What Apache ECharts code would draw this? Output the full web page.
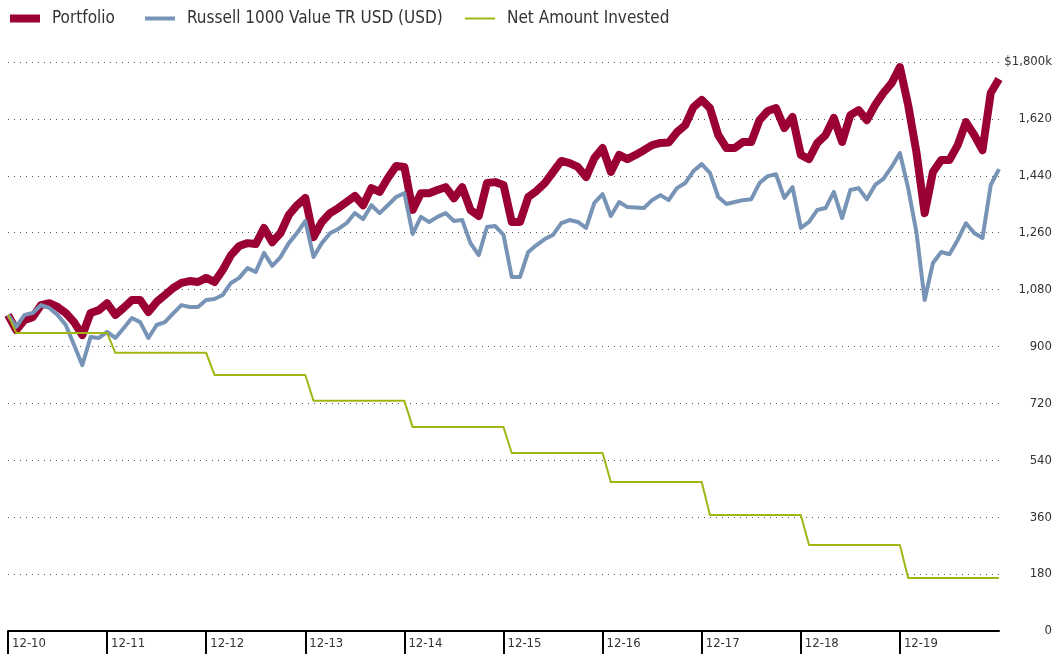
<!DOCTYPE html>
<html>
<head>
<meta charset="utf-8">
<script src="https://cdn.jsdelivr.net/npm/echarts@6/dist/echarts.min.js"></script>
<style>
html,body{margin:0;padding:0;background:#fff;}
#chart{width:1055px;height:654px;}
</style>
</head>
<body>
<div id="chart"></div>
<script>
const categories = [
'12-10',
'01-11','02-11','03-11','04-11','05-11','06-11','07-11','08-11','09-11','10-11','11-11','12-11',
'01-12','02-12','03-12','04-12','05-12','06-12','07-12','08-12','09-12','10-12','11-12','12-12',
'01-13','02-13','03-13','04-13','05-13','06-13','07-13','08-13','09-13','10-13','11-13','12-13',
'01-14','02-14','03-14','04-14','05-14','06-14','07-14','08-14','09-14','10-14','11-14','12-14',
'01-15','02-15','03-15','04-15','05-15','06-15','07-15','08-15','09-15','10-15','11-15','12-15',
'01-16','02-16','03-16','04-16','05-16','06-16','07-16','08-16','09-16','10-16','11-16','12-16',
'01-17','02-17','03-17','04-17','05-17','06-17','07-17','08-17','09-17','10-17','11-17','12-17',
'01-18','02-18','03-18','04-18','05-18','06-18','07-18','08-18','09-18','10-18','11-18','12-18',
'01-19','02-19','03-19','04-19','05-19','06-19','07-19','08-19','09-19','10-19','11-19','12-19',
'01-20','02-20','03-20','04-20','05-20','06-20','07-20','08-20','09-20','10-20','11-20','12-20'
];

const portfolio = [
1000,
952,984,993,1031,1037,1025,1006,977,936,1006,1015,1037,
1000,1022,1047,1047,1009,1041,1063,1085,1101,1107,1104,1117,
1104,1142,1189,1218,1227,1224,1275,1230,1259,1316,1347,1370,
1246,1294,1322,1338,1357,1376,1347,1401,1389,1433,1471,1468,
1332,1385,1385,1395,1404,1369,1404,1332,1313,1417,1420,1411,
1294,1294,1373,1392,1417,1452,1487,1480,1468,1436,1496,1528,
1452,1506,1493,1506,1521,1537,1544,1545,1578,1600,1657,1680,
1654,1569,1528,1528,1547,1547,1616,1645,1654,1591,1626,1506,
1493,1544,1569,1623,1547,1632,1648,1616,1664,1702,1733,1784,
1664,1515,1322,1452,1490,1490,1537,1610,1569,1521,1702,1746
];

const benchmark = [
1000,
962,1000,1006,1031,1022,1000,968,905,841,930,927,946,
927,958,990,977,927,968,977,1005,1031,1025,1025,1047,
1050,1063,1101,1117,1148,1136,1196,1155,1183,1227,1259,1297,
1183,1227,1258,1272,1290,1322,1303,1347,1322,1347,1373,1385,
1256,1310,1294,1310,1322,1297,1300,1227,1189,1278,1281,1253,
1120,1120,1199,1221,1240,1253,1290,1300,1294,1275,1354,1382,
1313,1357,1341,1340,1338,1363,1379,1363,1401,1417,1455,1477,
1449,1373,1351,1357,1363,1366,1417,1439,1445,1370,1404,1275,
1294,1332,1338,1389,1306,1395,1401,1366,1411,1430,1468,1512,
1401,1262,1047,1164,1199,1192,1237,1290,1259,1243,1411,1461
];

const netInvested = [
1000,
943,943,943,943,943,943,943,943,943,943,943,943,
880,880,880,880,880,880,880,880,880,880,880,880,
810,810,810,810,810,810,810,810,810,810,810,810,
728,728,728,728,728,728,728,728,728,728,728,728,
645,645,645,645,645,645,645,645,645,645,645,645,
563,563,563,563,563,563,563,563,563,563,563,563,
471,471,471,471,471,471,471,471,471,471,471,471,
367,367,367,367,367,367,367,367,367,367,367,367,
272,272,272,272,272,272,272,272,272,272,272,272,
168,168,168,168,168,168,168,168,168,168,168,168
];

const yTickLabels = ['0','180','360','540','720','900','1,080','1,260','1,440','1,620','$1,800k'];
const seriesNames = ['Portfolio','Russell 1000 Value TR USD (USD)','Net Amount Invested'];

const FONT = '"DejaVu Sans Condensed","Liberation Sans Narrow","Liberation Sans",sans-serif';
const C_RED = '#9b0032', C_BLUE = '#7794b7', C_GREEN = '#a2b514';

const chart = echarts.init(document.getElementById('chart'), null, {renderer:'canvas'});

function legendItem(name, left, h, color){
  return {
    data:[{name:name, icon:'rect', itemStyle:{color:color}}],
    left:left, top:10, itemWidth:30, itemHeight:h, itemGap:0,
    selectedMode:false,
    textStyle:{fontFamily:FONT, fontSize:17, color:'#333', padding:[0,0,0,7]},
    padding:0
  };
}

chart.setOption({
  animation:false,
  textStyle:{fontFamily:FONT},
  legend:[
    legendItem(seriesNames[0], 10, 8, C_RED),
    legendItem(seriesNames[1], 145, 4, C_BLUE),
    legendItem(seriesNames[2], 465, 2, C_GREEN)
  ],
  grid:{left:8, right:55, top:62, bottom:23, containLabel:false},
  xAxis:{
    type:'category', data:categories, boundaryGap:false,
    axisLine:{show:true, lineStyle:{color:'#000', width:2}},
    axisTick:{show:true, length:23, inside:false, lineStyle:{color:'#000', width:2},
      interval:function(i){ return i % 12 === 0 && i < 120; }},
    axisLabel:{show:true, interval:function(i){ return i % 12 === 0 && i < 120; },
      align:'left', margin:6, padding:[0,0,0,4], fontFamily:FONT, fontSize:13, color:'#333'},
    splitLine:{show:false}
  },
  yAxis:{
    type:'value', position:'right', min:0, max:1800, interval:180,
    axisLine:{show:false}, axisTick:{show:false},
    axisLabel:{align:'right', margin:53, fontFamily:FONT, fontSize:13, color:'#333',
      formatter:function(v){ return yTickLabels[Math.round(v/180)]; }},
    splitLine:{show:true, lineStyle:{color:'#555', width:1, type:[1,5]}}
  },
  series:[
    {name:seriesNames[0], type:'line', data:portfolio, symbol:'none', z:2,
      lineStyle:{color:C_RED, width:8, join:'round'}, itemStyle:{color:C_RED}},
    {name:seriesNames[1], type:'line', data:benchmark, symbol:'none', z:3,
      lineStyle:{color:C_BLUE, width:4, join:'round'}, itemStyle:{color:C_BLUE}},
    {name:seriesNames[2], type:'line', data:netInvested, symbol:'none', z:4,
      lineStyle:{color:C_GREEN, width:2, join:'round'}, itemStyle:{color:C_GREEN}}
  ]
});
</script>
</body>
</html>
